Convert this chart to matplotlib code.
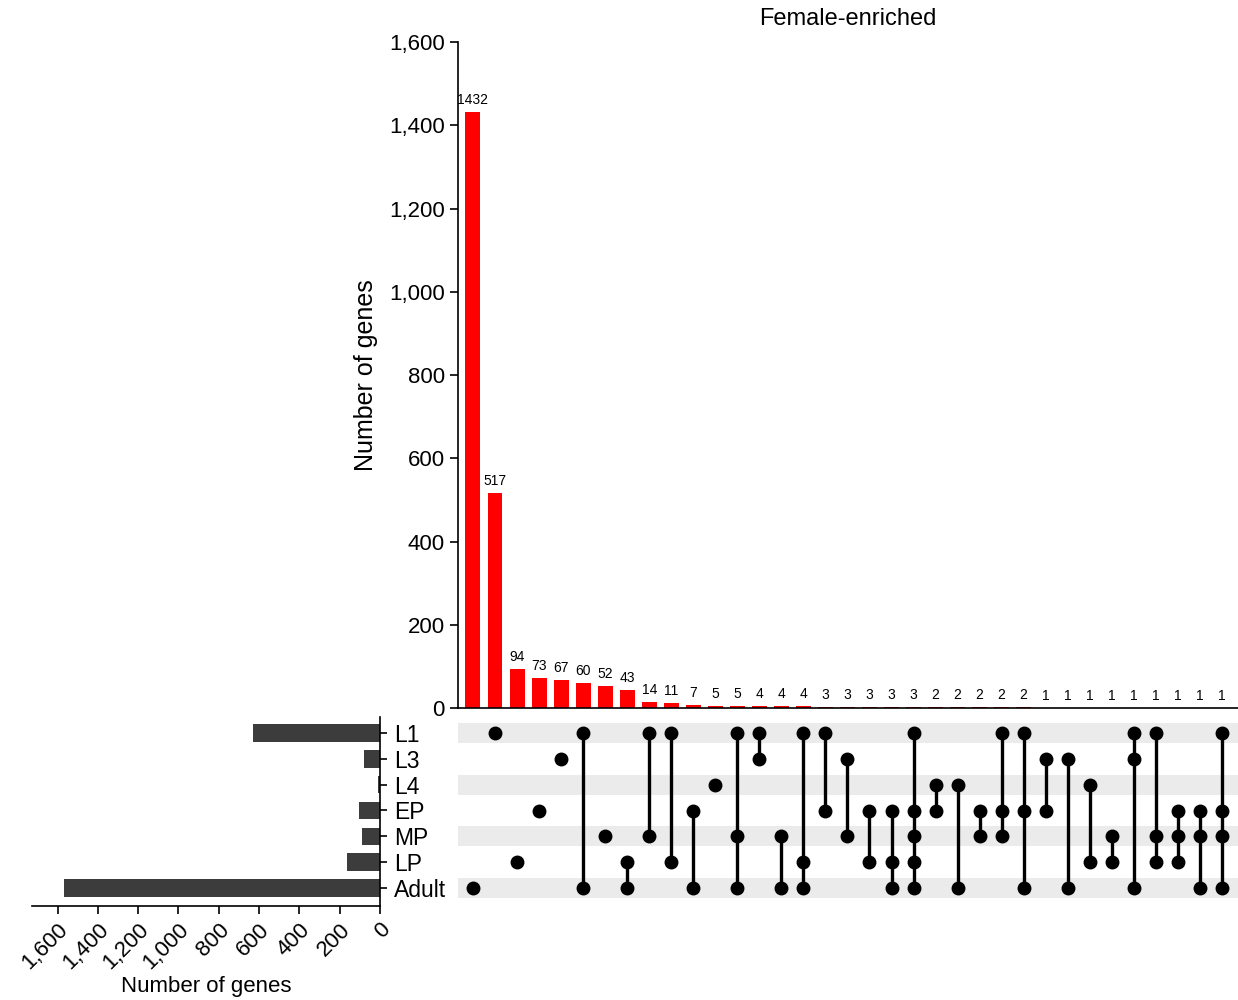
import numpy as np
import matplotlib
matplotlib.use('Agg')
import matplotlib.pyplot as plt
from matplotlib.ticker import FuncFormatter

plt.rcParams['font.family'] = ['Liberation Sans', 'DejaVu Sans']

# sets (rows of the matrix, top to bottom)
sets = ['L1', 'L3', 'L4', 'EP', 'MP', 'LP', 'Adult']
set_sizes = [628, 77, 10, 104, 90, 165, 1569]

# intersection sizes and their member sets
counts = [1432, 517, 94, 73, 67, 60, 52, 43, 14, 11, 7, 5, 5, 4, 4, 4,
          3, 3, 3, 3, 3, 2, 2, 2, 2, 2, 1, 1, 1, 1, 1, 1, 1, 1, 1]
members = [
    ['Adult'], ['L1'], ['LP'], ['EP'], ['L3'], ['L1', 'Adult'], ['MP'],
    ['LP', 'Adult'], ['L1', 'MP'], ['L1', 'LP'], ['EP', 'Adult'], ['L4'],
    ['L1', 'MP', 'Adult'], ['L1', 'L3'], ['MP', 'Adult'], ['L1', 'LP', 'Adult'],
    ['L1', 'EP'], ['L3', 'MP'], ['EP', 'LP'], ['EP', 'LP', 'Adult'],
    ['L1', 'EP', 'MP', 'LP', 'Adult'], ['L4', 'EP'], ['L4', 'Adult'],
    ['EP', 'MP'], ['L1', 'EP', 'MP'], ['L1', 'EP', 'Adult'], ['L3', 'EP'],
    ['L3', 'Adult'], ['L4', 'LP'], ['MP', 'LP'], ['L1', 'L3', 'Adult'],
    ['L1', 'MP', 'LP'], ['EP', 'MP', 'LP'], ['EP', 'MP', 'Adult'],
    ['L1', 'EP', 'MP', 'Adult'],
]

W, H = 1238, 1000
fig = plt.figure(figsize=(W / 100, H / 100), dpi=100)

def box(x0, y0, x1, y1):
    # pixel box (top-left origin) -> figure fraction
    return [x0 / W, 1 - y1 / H, (x1 - x0) / W, (y1 - y0) / H]

comma = FuncFormatter(lambda v, p: '{:,.0f}'.format(v))
n = len(counts)
xs = np.arange(n)
xlim = (-0.68, n - 1 + 0.73)

#=== intersection bars ===
ax = fig.add_axes(box(458, 42, 1238, 708))
ax.bar(xs, counts, width=0.68, color='#ff0000')
for x, c in zip(xs, counts):
    ax.text(x, c + 12, str(c), ha='center', va='bottom', fontsize=10)
ax.set_xlim(*xlim)
ax.set_ylim(0, 1600)
ax.set_yticks(range(0, 1601, 200))
ax.yaxis.set_major_formatter(comma)
ax.set_xticks([])
for s in ['top', 'right']:
    ax.spines[s].set_visible(False)
ax.spines['left'].set_linewidth(1.2)
ax.spines['bottom'].set_linewidth(1.2)
ax.tick_params(axis='y', labelsize=16, length=6, width=1.2)
ax.set_ylabel('Number of genes', fontsize=18, labelpad=8)
ax.set_title('Female-enriched', fontsize=17, pad=12)

#=== matrix ===
mx = fig.add_axes(box(458, 720, 1238, 901))
nr = len(sets)
mx.set_xlim(*xlim)
mx.set_ylim(nr - 0.5, -0.5)
for r in range(0, nr, 2):
    mx.axhspan(r - 0.39, r + 0.39, color='#ebebeb', lw=0, zorder=0)
for x, mem in zip(xs, members):
    rows = sorted(sets.index(m) for m in mem)
    if len(rows) > 1:
        mx.plot([x, x], [rows[0], rows[-1]], color='black', lw=2.4, zorder=2)
    mx.plot([x] * len(rows), rows, 'o', color='black', ms=9, zorder=3)
mx.axis('off')

#=== set size bars ===
sx = fig.add_axes(box(32, 717, 380, 906))
rows = np.arange(nr)
sx.barh(rows, set_sizes, height=0.68, color='#3c3c3c')
sx.set_xlim(1727, 0)
sx.set_ylim(nr - 1 + 0.70, -0.62)
sx.yaxis.tick_right()
sx.set_yticks(rows)
sx.set_yticklabels(sets)
sx.set_xticks(range(0, 1601, 200))
sx.xaxis.set_major_formatter(comma)
for s in ['top', 'left']:
    sx.spines[s].set_visible(False)
sx.spines['right'].set_linewidth(1.2)
sx.spines['bottom'].set_linewidth(1.2)
sx.tick_params(axis='y', labelsize=16.5, length=5, width=1.2, pad=5)
sx.tick_params(axis='x', labelsize=16, length=6, width=1.2)
plt.setp(sx.get_xticklabels(), rotation=45, ha='right', va='top', rotation_mode='anchor')
sx.set_xlabel('Number of genes', fontsize=16, labelpad=2)

plt.savefig('out.png', dpi=100)
